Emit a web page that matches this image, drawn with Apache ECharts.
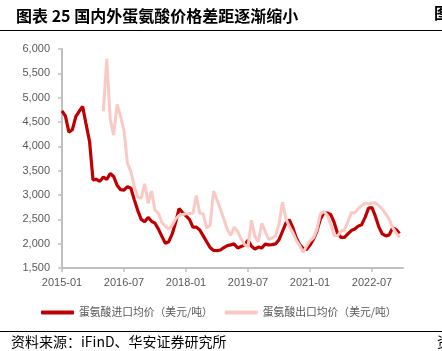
<!DOCTYPE html>
<html>
<head>
    <meta charset="utf-8">
    <title>ECharts</title>
    <script type="text/javascript" src="https://cdn.jsdelivr.net/npm/echarts@6/dist/echarts.min.js"></script>
    <style>
        body { margin: 0; background: #fff; }
    </style>
</head>
<body>
<div id="main" style="width: 442px;height:351px;"></div>
<script type="text/javascript">
    // 月度数据 2015-01 ~ 2023-04
    var months = [];
    for (var y = 2015; y <= 2023; y++) {
        for (var m = 1; m <= 12; m++) {
            if (y === 2023 && m > 4) break;
            months.push(y + '-' + (m < 10 ? '0' + m : m));
        }
    }
    var tickLabels = ['2015-01', '2016-07', '2018-01', '2019-07', '2021-01', '2022-07'];

    // 蛋氨酸进口均价（美元/吨）
    var importPrice = [
        4730, 4620, 4290, 4340, 4610, 4720, 4820, 4450, 4100, 3310, 3320, 3280,
        3370, 3320, 3440, 3380, 3200, 3110, 3100, 3170, 3140, 2900, 2680, 2500,
        2450, 2540, 2460, 2420, 2300, 2150, 2010, 2040, 2200, 2440, 2720, 2640,
        2570, 2500, 2340, 2340, 2280, 2160, 2040, 1920, 1860, 1856, 1870, 1920,
        1960, 1975, 1995, 1910, 1940, 1970, 2070, 1950, 1890, 1930, 1910, 1990,
        1975, 1980, 1995, 2080, 2250, 2420, 2490, 2330, 2120, 1980, 1900, 1880,
        1970, 2090, 2260, 2500, 2630, 2630, 2600, 2440, 2210, 2130, 2130, 2200,
        2270, 2300, 2360, 2390, 2540, 2730, 2740, 2560, 2340, 2200, 2160, 2180,
        2330, 2290, 2210, null
    ];
    // 蛋氨酸出口均价（美元/吨）
    var exportPrice = [
        null, null, null, null, null, null, null, null, null, null, null, null,
        4720, 5800, 4560, 4230, 4860, 4620, 4320, 3650, 3480, 3170, 2960, 2930,
        3230, 2830, 3080, 2690, 2620, 2430, 2360, 2300, 2380, 2510, 2580, 2600,
        2615, 2620, 2625, 2990, 2630, 2610, 2320, 2380, 3080, 2900, 2700, 2500,
        2290, 2170, 2340, 2250, 2100, 1980, 1940, 2480, 2150, 2040, 2420, 2250,
        2090, 2110, 2160, 2400, 2850, 2520, 2350, 2230, 2070, 1960, 1820, 1950,
        2060, 2120, 2290, 2610, 2660, 2590, 2400, 2170, 2160, 2260, 2280, 2450,
        2640, 2630, 2720, 2780, 2830, 2820, 2835, 2840, 2780, 2710, 2610, 2500,
        2330, 2220, 2130, null
    ];

    var myChart = echarts.init(document.getElementById('main'));
    var gray = '#595959';
    var option = {
        animation: false,
        backgroundColor: '#fff',
        title: {
            text: '图表 25 国内外蛋氨酸价格差距逐渐缩小',
            left: 11,
            top: 3,
            textStyle: {
                fontFamily: 'Noto Sans CJK SC',
                fontSize: 16,
                fontWeight: 'bold',
                color: '#000'
            }
        },
        graphic: [
            {type: 'line', shape: {x1: 0, y1: 30.5, x2: 442, y2: 30.5}, style: {stroke: '#000', lineWidth: 1}},
            {type: 'line', shape: {x1: 0, y1: 331.5, x2: 442, y2: 331.5}, style: {stroke: '#000', lineWidth: 1}},
            {type: 'text', left: 434, top: 5, style: {text: '图', font: 'bold 16px "Noto Sans CJK SC"', fill: '#000'}},
            {
                type: 'text', left: 11, top: 335,
                style: {text: '资料来源：iFinD、华安证券研究所', font: '14px "Noto Sans CJK SC"', fill: '#000'}
            },
            {type: 'text', left: 437, top: 335, style: {text: '资', font: '14px "Noto Sans CJK SC"', fill: '#000'}}
        ],
        legend: {
            left: 36,
            top: 302,
            itemWidth: 33,
            itemHeight: 4,
            itemGap: 12,
            icon: 'roundRect',
            textStyle: {
                fontFamily: 'Noto Sans CJK SC',
                fontSize: 10.8,
                color: gray
            },
            data: ['蛋氨酸进口均价（美元/吨）', '蛋氨酸出口均价（美元/吨）']
        },
        grid: {
            left: 62,
            right: 39,
            top: 49,
            bottom: 83
        },
        xAxis: {
            type: 'category',
            boundaryGap: false,
            data: months,
            axisLine: {lineStyle: {color: '#bfbfbf', width: 2}},
            axisTick: {
                show: true,
                length: 4,
                lineStyle: {color: '#bfbfbf', width: 1.5},
                interval: function (i, v) { return tickLabels.indexOf(v) >= 0; }
            },
            axisLabel: {
                interval: function (i, v) { return tickLabels.indexOf(v) >= 0; },
                color: gray,
                fontFamily: 'Liberation Sans',
                fontSize: 11,
                margin: 9
            },
            splitLine: {show: false}
        },
        yAxis: {
            type: 'value',
            min: 1500,
            max: 6000,
            interval: 500,
            axisLine: {show: true, lineStyle: {color: '#bfbfbf', width: 2}},
            axisTick: {show: true, length: 4, lineStyle: {color: '#bfbfbf', width: 1.5}},
            axisLabel: {
                color: gray,
                fontFamily: 'Liberation Sans',
                fontSize: 11,
                margin: 12,
                formatter: function (v) { return v.toLocaleString('en-US'); }
            },
            splitLine: {show: false}
        },
        series: [
            {
                name: '蛋氨酸进口均价（美元/吨）',
                type: 'line',
                data: importPrice,
                symbol: 'none',
                itemStyle: {color: '#C00000'},
                lineStyle: {color: '#C00000', width: 3.2}
            },
            {
                name: '蛋氨酸出口均价（美元/吨）',
                type: 'line',
                data: exportPrice,
                symbol: 'none',
                itemStyle: {color: '#FBC9C4'},
                lineStyle: {color: '#FBC9C4', width: 3}
            }
        ]
    };
    myChart.setOption(option);
</script>
</body>
</html>
